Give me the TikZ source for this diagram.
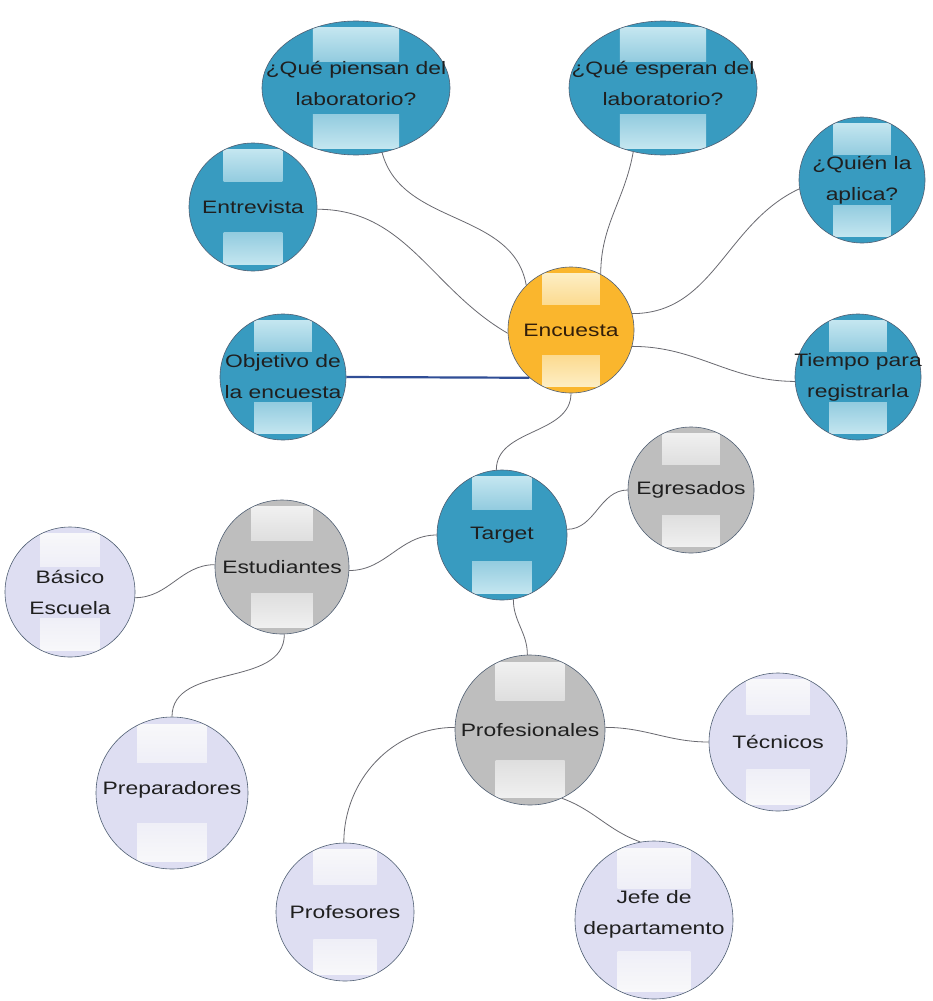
\documentclass[tikz,border=0pt]{standalone}
\usepackage{fontspec}
\setmainfont[FakeStretch=1.27]{Liberation Sans}
\usetikzlibrary{calc,shapes.geometric}

\definecolor{tealbase}{RGB}{56,155,192}
\definecolor{teallight}{RGB}{196,230,240}
\definecolor{orangebase}{RGB}{250,182,45}
\definecolor{orangelight}{RGB}{253,238,196}
\definecolor{graybase}{RGB}{190,190,190}
\definecolor{graylight}{RGB}{240,240,240}
\definecolor{lavbase}{RGB}{222,222,242}
\definecolor{lavlight}{RGB}{248,248,250}
\definecolor{rim}{RGB}{80,95,115}
\definecolor{wire}{RGB}{105,105,112}
\definecolor{linkblue}{RGB}{48,78,150}

\tikzset{
  % glossy bubble: base fill plus two pale patches near top and bottom
  gloss/.style 2 args={
    draw=rim, line width=0.6pt, fill=#1, inner sep=-8pt, align=center,
    text=black!88,
    font=\fontsize{18}{31}\selectfont,
    path picture={
      \coordinate (pa) at (path picture bounding box.north west);
      \coordinate (pb) at (path picture bounding box.south east);
      \path (pa) -- (pb)
        coordinate[pos=.27] (g1) coordinate[pos=.73] (g2)
        coordinate[pos=.05] (h1) coordinate[pos=.30] (h2)
        coordinate[pos=.70] (h3) coordinate[pos=.95] (h4);
      \shade[top color=#2, bottom color=#2!65!#1] (g1 |- h1) rectangle (g2 |- h2);
      \shade[top color=#2!65!#1, bottom color=#2] (g1 |- h3) rectangle (g2 |- h4);
    }},
  bubble/.style 2 args={circle, gloss={#1}{#2}},
  oval/.style 2 args={ellipse, gloss={#1}{#2}, inner xsep=-30pt},
  r/.style={minimum size=#1*2pt},
  wirelink/.style={draw=wire, line width=0.8pt},
  straightlink/.style={draw=linkblue, line width=2.2pt},
}

\begin{document}
\begin{tikzpicture}[x=1pt,y=1pt]
  \fill[white] (0,0) rectangle (932,-1001);
  \useasboundingbox (0,0) rectangle (932,-1001);

  % top-level topics
  \node[oval={tealbase}{teallight}, minimum width=188pt, minimum height=134pt]
    (piensan) at (356,-88) {¿Qué piensan del\\laboratorio?\\[-21pt]};
  \node[oval={tealbase}{teallight}, minimum width=188pt, minimum height=134pt]
    (esperan) at (663,-88) {¿Qué esperan del\\laboratorio?\\[-21pt]};
  \node[bubble={tealbase}{teallight}, r=64] (entrevista) at (253,-207) {Entrevista};
  \node[bubble={tealbase}{teallight}, r=63] (quien) at (862,-180) {¿Quién la\\aplica?};
  \node[bubble={orangebase}{orangelight}, r=63, text={rgb,255:red,50;green,30;blue,10}]
    (encuesta) at (571,-330) {Encuesta};
  \node[bubble={tealbase}{teallight}, r=63] (objetivo) at (283,-377) {Objetivo de\\la encuesta};
  \node[bubble={tealbase}{teallight}, r=63] (tiempo) at (858,-377) {Tiempo para\\registrarla};

  % target groups
  \node[bubble={tealbase}{teallight}, r=65] (target) at (502,-535) {Target};
  \node[bubble={graybase}{graylight}, r=63] (egresados) at (691,-490) {Egresados};
  \node[bubble={graybase}{graylight}, r=67] (estudiantes) at (282,-567) {Estudiantes};
  \node[bubble={lavbase}{lavlight}, r=65] (basico) at (70,-592) {Básico\\Escuela};
  \node[bubble={lavbase}{lavlight}, r=76] (preparadores) at (172,-793) {Preparadores\\[-21pt]};
  \node[bubble={graybase}{graylight}, r=75] (profesionales) at (530,-730) {Profesionales};
  \node[bubble={lavbase}{lavlight}, r=69] (tecnicos) at (778,-742) {Técnicos};
  \node[bubble={lavbase}{lavlight}, r=69] (profesores) at (345,-912) {Profesores};
  \node[bubble={lavbase}{lavlight}, r=79] (jefe) at (654,-920) {Jefe de\\departamento\\[-15pt]};

  % connectors
  \draw[wirelink] (piensan.-68) to[out=-75,in=100] (encuesta.135);
  \draw[wirelink] (esperan.-115) to[out=-100,in=90] (encuesta.62);
  \draw[wirelink] (entrevista.-2) to[out=0,in=150] (encuesta.183);
  \draw[wirelink] (quien.188) to[out=205,in=0] (encuesta.15);
  \draw[straightlink] (objetivo.east) -- (encuesta.229);
  \draw[wirelink] (encuesta.-15) to[out=0,in=180] (tiempo.184);
  \draw[wirelink] (encuesta.-90) to[out=-90,in=90] (target.95);
  \draw[wirelink] (target.5) to[out=0,in=180] (egresados.180);
  \draw[wirelink] (target.180) to[out=180,in=0] (estudiantes.-3);
  \draw[wirelink] (estudiantes.178) to[out=180,in=0] (basico.-5);
  \draw[wirelink] (estudiantes.-88) to[out=-90,in=90] (preparadores.90);
  \draw[wirelink] (target.-80) to[out=-90,in=90] (profesionales.92);
  \draw[wirelink] (profesionales.2) to[out=0,in=180] (tecnicos.180);
  \draw[wirelink] (profesionales.178) to[out=180,in=90] (profesores.91);
  \draw[wirelink] (profesionales.-65) to[out=-20,in=160] (jefe.100);
\end{tikzpicture}
\end{document}
